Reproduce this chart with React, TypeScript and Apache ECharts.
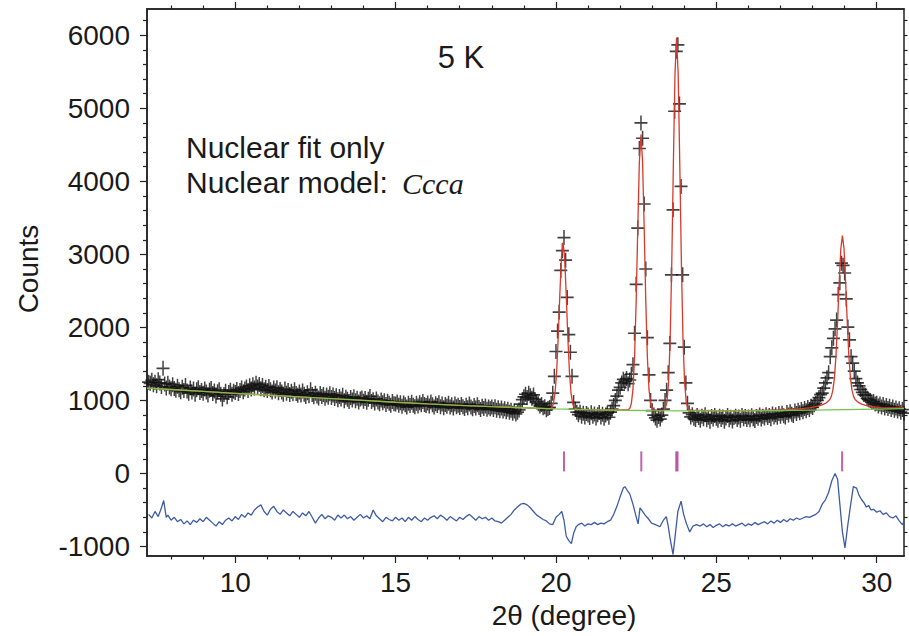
import React, { useEffect, useRef } from "react";
import * as echarts from "echarts";

// ---- axis ranges and tick values ----
const X_MIN = 7.25;
const X_MAX = 30.85;
const Y_MIN = -1130;
const Y_MAX = 6360;
const X_MAJOR = [10, 15, 20, 25, 30];
const X_MINOR = [8, 9, 11, 12, 13, 14, 16, 17, 18, 19, 21, 22, 23, 24, 26, 27, 28, 29];
const Y_MAJOR = [-1000, 0, 1000, 2000, 3000, 4000, 5000, 6000];
const Y_MINOR = [
  -800, -600, -400, -200, 200, 400, 600, 800, 1200, 1400, 1600, 1800, 2200, 2400, 2600, 2800,
  3200, 3400, 3600, 3800, 4200, 4400, 4600, 4800, 5200, 5400, 5600, 5800, 6200,
];

// ---- observed counts, 2θ from 7.30 in steps of 0.05 ----
const OBS_START = 7.3;
const OBS_STEP = 0.05;
const OBS_COUNTS = [
  // 7.30–7.95
  1250, 1235, 1275, 1215, 1250, 1200, 1285, 1240, 1190, 1440, 1225, 1170, 1235, 1185,
  // 8
  1160, 1215, 1165, 1140, 1195, 1145, 1120, 1180, 1135, 1205, 1130, 1100, 1170, 1115, 1155, 1085, 1145, 1175, 1110, 1135,
  // 9
  1100, 1155, 1115, 1075, 1140, 1165, 1095, 1130, 1060, 1120, 1145, 1085, 1020, 1080, 1125, 1050, 1110, 1140, 1085, 1125,
  // 10
  1110, 1150, 1095, 1135, 1170, 1120, 1155, 1185, 1135, 1200, 1155, 1215, 1170, 1235, 1185, 1220, 1160, 1205, 1145, 1180,
  // 11
  1135, 1190, 1145, 1115, 1170, 1130, 1175, 1105, 1150, 1115, 1085, 1155, 1100, 1135, 1080, 1125, 1090, 1145, 1095, 1070,
  // 12
  1115, 1075, 1130, 1085, 1055, 1105, 1065, 1145, 1080, 1050, 1100, 1060, 1035, 1095, 1055, 1080, 1030, 1075, 1045, 1090,
  // 13
  1040, 1075, 1025, 1065, 1010, 1055, 1020, 1070, 995, 1045, 1015, 985, 1040, 1005, 1050, 995, 1030, 980, 1020, 1035,
  // 14
  990, 1025, 975, 1015, 1055, 985, 1010, 965, 1020, 980, 955, 1005, 970, 995, 945, 990, 960, 935, 985, 955,
  // 15
  950, 980, 935, 970, 920, 965, 940, 910, 960, 930, 975, 935, 915, 960, 925, 970, 940, 985, 945, 930,
  // 16
  965, 925, 980, 940, 910, 955, 930, 970, 915, 950, 900, 945, 920, 960, 910, 940, 895, 950, 915, 935,
  // 17
  905, 945, 915, 890, 935, 900, 950, 910, 885, 930, 895, 940, 905, 875, 920, 890, 925, 880, 910, 885,
  // 18
  910, 875, 915, 865, 900, 860, 895, 855, 885, 845, 880, 840, 865, 825, 855, 815, 840, 870, 950, 1010,
  // 19
  1050, 1085, 1040, 1100, 1065, 1030, 1075, 1010, 980, 955, 925, 945, 900, 915, 872, 890, 905, 960, 1100, 1330,
  // 20
  1670, 1950, 2210, 2780, 3050, 3230, 2920, 2410, 1900, 1660, 1330, 973, 880, 840, 805, 840, 785, 825, 775, 820,
  // 21
  800, 765, 830, 785, 815, 760, 805, 835, 775, 810, 755, 800, 825, 770, 840, 880, 930, 1000, 1060, 1140,
  // 22
  1180, 1240, 1290, 1260, 1300, 1230, 1280, 1360, 1490, 1920, 2590, 3360, 4450, 4800, 4590, 3690, 2800, 1860, 1350, 1000,
  // 23
  860, 800, 760, 730, 780, 745, 800, 880, 1000, 1140, 1380, 1780, 2720, 3610, 4960, 5780, 5870, 5060, 3930, 2720,
  // 24
  1730, 1240, 960, 830, 775, 805, 755, 740, 795, 765, 730, 785, 750, 805, 735, 770, 715, 780, 745, 795,
  // 25
  755, 730, 785, 740, 775, 715, 760, 795, 735, 770, 720, 765, 785, 740, 775, 730, 795, 750, 780, 740,
  // 26
  775, 735, 790, 750, 725, 780, 755, 800, 745, 785, 760, 805, 765, 795, 750, 815, 775, 805, 770, 820,
  // 27
  785, 825, 790, 775, 835, 800, 845, 810, 795, 855, 820, 865, 830, 875, 845, 890, 860, 905, 875, 920,
  // 28
  905, 940, 960, 1000, 1040, 1080, 1100, 1170, 1240, 1310, 1380, 1600, 1720, 1850, 1980, 2100, 2450, 2610, 2880, 2850,
  // 29
  2745, 2390, 2005, 1830, 1600, 1510, 1400, 1300, 1240, 1200, 1150, 1110, 1080, 1070, 1030, 1010, 1000, 975, 985, 950,
  // 30.00–30.85
  960, 925, 950, 910, 945, 895, 930, 890, 920, 875, 910, 865, 895, 855, 885, 840, 875, 825,
];

// ---- calculated profile (nuclear fit) ----
const CALC_X = [
  7.25, 8, 9, 10, 11, 12, 13, 14, 15, 16, 17, 18, 19, 19.5,
  19.77, 19.82, 19.87, 19.92, 19.97, 20.02, 20.07, 20.12, 20.17, 20.22, 20.27, 20.32, 20.37, 20.42, 20.47, 20.52, 20.57, 20.62, 20.67,
  21, 21.6, 22.25, 22.3, 22.35, 22.4, 22.45, 22.5, 22.55, 22.6, 22.65, 22.7, 22.75, 22.8, 22.85, 22.9, 22.95, 23.0, 23.05,
  23.2, 23.36, 23.41, 23.46, 23.51, 23.56, 23.61, 23.66, 23.71, 23.76, 23.81, 23.86, 23.91, 23.96, 24.01, 24.06, 24.11, 24.16,
  25, 26, 27, 27.43, 27.73, 27.93, 28.13, 28.23, 28.33, 28.43, 28.53, 28.58, 28.63, 28.68, 28.73, 28.78, 28.83, 28.88, 28.93,
  28.98, 29.03, 29.08, 29.13, 29.18, 29.23, 29.28, 29.33, 29.43, 29.53, 29.63, 29.73, 29.93, 30.13, 30.43, 30.85,
];
const CALC_Y = [
  1170, 1150, 1124, 1098, 1072, 1048, 1024, 1000, 975, 953, 933, 915, 900, 892,
  884, 887, 904, 958, 1098, 1386, 1858, 2446, 2957, 3162, 2957, 2446, 1858, 1386, 1098, 958, 904, 887, 882,
  874, 869, 871, 890, 958, 1151, 1587, 2357, 3361, 4270, 4640, 4270, 3361, 2357, 1587, 1151, 958, 890, 869,
  862, 867, 892, 984, 1246, 1836, 2878, 4238, 5469, 5970, 5469, 4238, 2878, 1836, 1246, 984, 892, 867,
  856, 860, 872, 880, 890, 900, 918, 930, 946, 969, 1008, 1050, 1135, 1306, 1615, 2078, 2620, 3075, 3256,
  3077, 2622, 2080, 1617, 1308, 1137, 1052, 1010, 973, 950, 935, 923, 910, 903, 898, 897,
];

// ---- background ----
const BG_X = [7.25, 8, 9, 10, 11, 12, 13, 14, 15, 16, 17, 18, 19, 20, 21, 22, 23, 24, 25, 26, 27, 28, 29, 30, 30.85];
const BG_Y = [1170, 1150, 1124, 1098, 1072, 1048, 1024, 1000, 975, 953, 933, 915, 900, 885, 874, 866, 860, 857, 856, 858, 862, 868, 875, 882, 888];

// ---- difference curve (offset) ----
const DIFF: [number, number][] = [
  [7.3, -560], [7.4, -610], [7.5, -520], [7.6, -590], [7.7, -470], [7.77, -370], [7.85, -600], [7.9, -570], [8.0, -640], [8.1, -600], [8.2, -660],
  [8.3, -630], [8.4, -690], [8.5, -650], [8.6, -700], [8.7, -640], [8.8, -670], [8.9, -620], [9.0, -660], [9.1, -600], [9.2, -640],
  [9.3, -680], [9.4, -720], [9.5, -660], [9.6, -700], [9.7, -640], [9.8, -610], [9.9, -650], [10.0, -590], [10.1, -630], [10.2, -560],
  [10.3, -600], [10.4, -540], [10.5, -570], [10.6, -500], [10.7, -460], [10.8, -430], [10.9, -520], [11.0, -570], [11.1, -490], [11.2, -450],
  [11.3, -520], [11.4, -560], [11.5, -500], [11.6, -540], [11.7, -580], [11.8, -520], [11.9, -560], [12.0, -600], [12.1, -540], [12.2, -580],
  [12.3, -520], [12.4, -600], [12.5, -680], [12.6, -610], [12.7, -560], [12.8, -620], [12.9, -580], [13.0, -600], [13.1, -640], [13.2, -570],
  [13.3, -610], [13.4, -570], [13.5, -620], [13.6, -590], [13.7, -640], [13.8, -600], [13.9, -560], [14.0, -610], [14.1, -580], [14.2, -620],
  [14.3, -500], [14.4, -580], [14.5, -620], [14.6, -660], [14.7, -600], [14.8, -630], [14.9, -650], [15.0, -600], [15.1, -640], [15.2, -610],
  [15.3, -660], [15.4, -600], [15.5, -640], [15.6, -590], [15.7, -630], [15.8, -660], [15.9, -610], [16.0, -640], [16.1, -600], [16.2, -580],
  [16.3, -620], [16.4, -570], [16.5, -600], [16.6, -640], [16.7, -590], [16.8, -620], [16.9, -650], [17.0, -600], [17.1, -630], [17.2, -590],
  [17.3, -560], [17.4, -600], [17.5, -640], [17.6, -590], [17.7, -620], [17.8, -600], [17.9, -640], [18.0, -610], [18.1, -650], [18.2, -660],
  [18.3, -680], [18.4, -640], [18.5, -600], [18.6, -560], [18.7, -500], [18.8, -460], [18.9, -420], [19.0, -410], [19.1, -430], [19.2, -470],
  [19.3, -520], [19.4, -570], [19.5, -600], [19.6, -630], [19.7, -650], [19.8, -690], [19.9, -700], [20.0, -600], [20.1, -560], [20.18, -520],
  [20.25, -640], [20.32, -860], [20.4, -920], [20.48, -960], [20.55, -820], [20.63, -730], [20.7, -700], [20.8, -680], [20.9, -720], [21.0, -690], [21.1, -700], [21.2, -670],
  [21.3, -700], [21.4, -680], [21.5, -690], [21.6, -660], [21.7, -640], [21.8, -560], [21.9, -450], [22.0, -320], [22.1, -200], [22.15, -180], [22.22, -230],
  [22.3, -280], [22.4, -420], [22.48, -560], [22.56, -690], [22.62, -470], [22.7, -520], [22.78, -570], [22.88, -620], [22.98, -680], [23.1, -700], [23.24, -730], [23.35, -640], [23.44, -590],
  [23.5, -720], [23.55, -870], [23.65, -1110], [23.73, -800], [23.8, -520], [23.9, -380], [23.98, -560], [24.07, -690], [24.17, -800], [24.27, -720], [24.38, -700],
  [24.5, -720], [24.6, -690], [24.7, -730], [24.8, -700], [24.9, -740], [25.0, -710], [25.1, -690], [25.2, -730], [25.3, -700], [25.4, -720], [25.5, -690],
  [25.6, -720], [25.7, -700], [25.8, -680], [25.9, -720], [26.0, -690], [26.1, -710], [26.2, -670], [26.3, -700], [26.4, -680], [26.5, -660],
  [26.6, -690], [26.7, -650], [26.8, -680], [26.9, -640], [27.0, -670], [27.1, -630], [27.2, -660], [27.3, -620], [27.4, -640], [27.5, -610],
  [27.6, -630], [27.7, -610], [27.8, -590], [27.9, -600], [28.0, -580], [28.1, -560], [28.2, -520], [28.3, -420], [28.4, -360], [28.5, -260],
  [28.6, -100], [28.7, 0], [28.78, -80], [28.85, -420], [28.93, -800], [29.01, -1020], [29.1, -700], [29.17, -480], [29.27, -180], [29.37, -200],
  [29.45, -300], [29.53, -360], [29.6, -400], [29.68, -460], [29.75, -440], [29.82, -500], [29.9, -490], [30.0, -530], [30.1, -510], [30.2, -560],
  [30.3, -540], [30.4, -590], [30.5, -610], [30.6, -580], [30.7, -650], [30.8, -700], [30.85, -660],
];

// ---- reflection positions (Ccca) ----
const REFLECTIONS = [20.25, 22.66, 23.75, 23.79, 28.92];
const REFLECTION_ROW = 165;

const FONT = "Liberation Sans";
const INK = "#1a1a1a";

export default function App() {
  const ref = useRef<HTMLDivElement>(null);

  useEffect(() => {
    if (!ref.current) return;
    const chart = echarts.init(ref.current, null, { renderer: "svg" });

    const obsData = OBS_COUNTS.map((v, i) => [+(OBS_START + i * OBS_STEP).toFixed(2), v]);
    const calcData = CALC_X.map((x, i) => [x, CALC_Y[i]]);
    const bgData = BG_X.map((x, i) => [x, BG_Y[i]]);
    const tickData = REFLECTIONS.map((x) => [x, REFLECTION_ROW]);

    const lineAx = { show: true, onZero: false, lineStyle: { color: "#222", width: 1.5 } };
    const tickStyle = { color: "#222", width: 1.2 };
    const plain = (v: number) => String(v);

    const xAx = (position: string, values: number[], len: number, labels: boolean) => ({
      type: "value",
      position,
      min: X_MIN,
      max: X_MAX,
      axisLine: lineAx,
      axisTick: { show: true, inside: false, length: len, customValues: values, lineStyle: tickStyle },
      axisLabel: labels
        ? { show: true, customValues: values, margin: 12, fontSize: 28, fontFamily: FONT, color: INK, formatter: plain }
        : { show: false },
      splitLine: { show: false },
    });
    const yAx = (position: string, values: number[], len: number, labels: boolean) => ({
      type: "value",
      position,
      min: Y_MIN,
      max: Y_MAX,
      axisLine: lineAx,
      axisTick: { show: true, inside: false, length: len, customValues: values, lineStyle: tickStyle },
      axisLabel: labels
        ? { show: true, customValues: values, margin: 17, fontSize: 28, fontFamily: FONT, color: INK, formatter: plain }
        : { show: false },
      splitLine: { show: false },
    });

    chart.setOption({
      animation: false,
      backgroundColor: "#ffffff",
      grid: { left: 147, right: 5, top: 9, bottom: 80, containLabel: false },
      xAxis: [
        xAx("bottom", X_MAJOR, 7, true),
        xAx("bottom", X_MINOR, 3.5, false),
        xAx("top", X_MAJOR, 7, false),
        xAx("top", X_MINOR, 3.5, false),
      ],
      yAxis: [
        yAx("left", Y_MAJOR, 7, true),
        yAx("left", Y_MINOR, 4, false),
        yAx("right", Y_MAJOR.concat(Y_MINOR), 3.5, false),
      ],
      graphic: [
        {
          type: "text", x: 461, y: 57,
          style: { text: "5 K", fill: INK, font: `31px "${FONT}"`, textAlign: "center", textVerticalAlign: "middle" },
        },
        {
          type: "text", x: 186, y: 147,
          style: { text: "Nuclear fit only", fill: INK, font: `30px "${FONT}"`, textAlign: "left", textVerticalAlign: "middle" },
        },
        {
          type: "text", x: 186, y: 182,
          style: { text: "Nuclear model:", fill: INK, font: `30px "${FONT}"`, textAlign: "left", textVerticalAlign: "middle" },
        },
        {
          type: "text", x: 402, y: 183,
          style: { text: "Ccca", fill: INK, font: `italic 30px "Liberation Serif"`, textAlign: "left", textVerticalAlign: "middle" },
        },
        {
          type: "text", x: 28, y: 269, rotation: Math.PI / 2,
          style: { text: "Counts", fill: INK, font: `28px "${FONT}"`, textAlign: "center", textVerticalAlign: "middle" },
        },
        {
          type: "text", x: 564, y: 615,
          style: { text: "2θ (degree)", fill: INK, font: `28px "${FONT}"`, textAlign: "center", textVerticalAlign: "middle" },
        },
      ],
      series: [
        {
          name: "Observed",
          type: "scatter",
          data: obsData,
          symbol: "path://M0 6 L12 6 M6 0 L6 12",
          symbolSize: [13, 15],
          itemStyle: { color: "rgba(0,0,0,0)", borderColor: "#111111", borderWidth: 1.6 },
          z: 1,
        },
        {
          name: "Calculated",
          type: "line",
          data: calcData,
          showSymbol: false,
          symbol: "none",
          lineStyle: { color: "#d8392b", width: 1.3 },
          z: 2,
        },
        {
          name: "Background",
          type: "line",
          data: bgData,
          showSymbol: false,
          symbol: "none",
          lineStyle: { color: "#78c24a", width: 1.3 },
          z: 3,
        },
        {
          name: "Difference",
          type: "line",
          data: DIFF,
          showSymbol: false,
          symbol: "none",
          lineStyle: { color: "#3d5ba6", width: 1.3 },
          z: 3,
        },
        {
          name: "Reflections",
          type: "scatter",
          data: tickData,
          symbol: "rect",
          symbolSize: [2, 20],
          itemStyle: { color: "#b23c96" },
          z: 4,
        },
      ],
    });

    return () => chart.dispose();
  }, []);

  return <div ref={ref} style={{ position: "fixed", left: 0, top: 0, width: 909, height: 636 }} />;
}
